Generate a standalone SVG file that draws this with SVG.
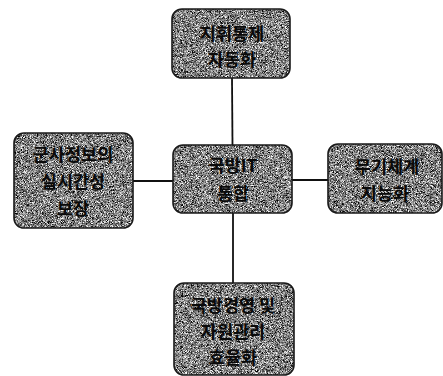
<svg xmlns="http://www.w3.org/2000/svg" width="443" height="376" viewBox="0 0 443 376">
<defs>
<filter id="grain" x="0" y="0" width="100%" height="100%" color-interpolation-filters="sRGB">
<feTurbulence type="fractalNoise" baseFrequency="1.8" numOctaves="2" seed="7" result="n"/>
<feColorMatrix in="n" type="matrix" values="2 0 0 0 -0.5  2 0 0 0 -0.5  2 0 0 0 -0.5  0 0 0 0 1" result="g"/>
<feComposite in="g" in2="SourceGraphic" operator="in"/>
</filter>
</defs>
<style>
.fill{fill:#000;filter:url(#grain)}
.edge{fill:none;stroke:#1a1a1a;stroke-width:1.6}
.lbl{font-family:"Noto Sans CJK KR","Noto Sans",sans-serif;font-size:17.5px;font-weight:bold;fill:#0a0a0a;text-anchor:middle}
.conn{stroke:#111;stroke-width:1.8;fill:none}
</style>
<g id="connectors">
<line class="conn" x1="232" y1="78" x2="232.5" y2="145"/>
<line class="conn" x1="233" y1="213" x2="233" y2="283"/>
<line class="conn" x1="133" y1="181" x2="173" y2="181"/>
<line class="conn" x1="292" y1="180" x2="328" y2="180"/>
</g>
<g id="n-top">
<rect class="fill" x="172" y="9" width="118" height="69" rx="10"/>
<rect class="edge" x="172" y="9" width="118" height="69" rx="10"/>
<text class="lbl" x="232" y="40">지휘통제</text>
<text class="lbl" x="232" y="66">자동화</text>
</g>
<g id="n-center">
<rect class="fill" x="173" y="145" width="119" height="68" rx="10"/>
<rect class="edge" x="173" y="145" width="119" height="68" rx="10"/>
<text class="lbl" x="233" y="172">국방IT</text>
<text class="lbl" x="233" y="200">통합</text>
</g>
<g id="n-left">
<rect class="fill" x="14" y="133" width="119" height="95" rx="10"/>
<rect class="edge" x="14" y="133" width="119" height="95" rx="10"/>
<text class="lbl" x="73" y="161">군사정보의</text>
<text class="lbl" x="73" y="188">실시간성</text>
<text class="lbl" x="73" y="215">보장</text>
</g>
<g id="n-right">
<rect class="fill" x="328" y="144" width="114" height="69" rx="10"/>
<rect class="edge" x="328" y="144" width="114" height="69" rx="10"/>
<text class="lbl" x="387" y="173">무기체계</text>
<text class="lbl" x="385" y="200">지능화</text>
</g>
<g id="n-bottom">
<rect class="fill" x="174" y="283" width="120" height="92" rx="10"/>
<rect class="edge" x="174" y="283" width="120" height="92" rx="10"/>
<text class="lbl" x="233" y="312">국방경영 및</text>
<text class="lbl" x="233" y="338">자원관리</text>
<text class="lbl" x="233" y="364">효율화</text>
</g>
</svg>
